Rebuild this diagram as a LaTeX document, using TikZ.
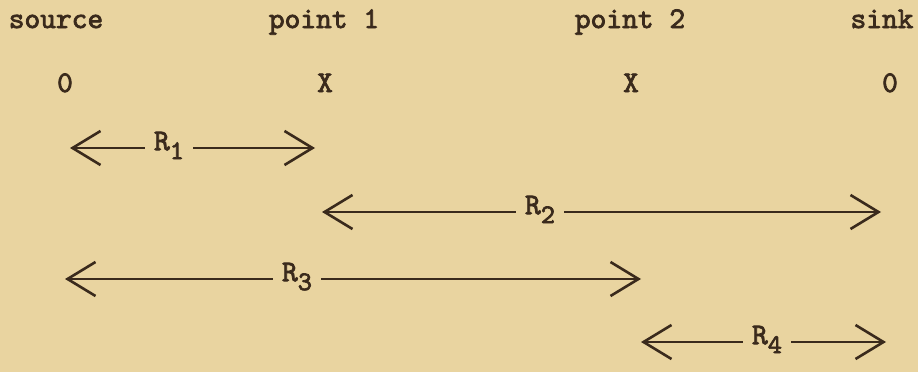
\documentclass[tikz,border=0pt]{standalone}
\usepackage{fontspec}
\newfontfamily\tw[Extension=.otf,FakeBold=2.5]{lmmono10-regular}
\usetikzlibrary{arrows.meta}
\definecolor{paper}{RGB}{233,212,160}
\definecolor{ink}{RGB}{58,42,28}
\begin{document}
\begin{tikzpicture}[x=1pt,y=-1pt,
  txt/.style={font=\tw\fontsize{30}{36}\selectfont, text=ink, inner sep=0pt, anchor=base},
  lab/.style={font=\tw\fontsize{30}{36}\selectfont, text=ink, inner sep=0pt, anchor=mid},
  rng/.style={draw=ink, line width=2.2pt, shorten <=9pt,
    -{Straight Barb[length=28pt,width=34pt,line width=2.6pt]}}]
\fill[paper] (0,0) rectangle (918,372);
\useasboundingbox (0,0) rectangle (918,372);
% headings
\node[txt] (src) at (56,28) {source};
\node[txt] (p1) at (324,28) {point 1};
\node[txt] (p2) at (630,28) {point 2};
\node[txt] (snk) at (882,28) {sink};
\node[txt] (v0) at (65,92) {0};
\node[txt] (v1) at (325,92) {X};
\node[txt] (v2) at (631,92) {X};
\node[txt] (v3) at (890,92) {0};
% ranges
\coordinate (r1l) at (70,148);  \coordinate (r1r) at (315,148);
\coordinate (r2l) at (322,212); \coordinate (r2r) at (881,212);
\coordinate (r3l) at (65,279);  \coordinate (r3r) at (641,279);
\coordinate (r4l) at (641,342); \coordinate (r4r) at (886,342);
\node[lab] (R1) at (169,148) {R\raisebox{-9pt}{\fontsize{27}{27}\selectfont 1}};
\node[lab] (R2) at (540,212) {R\raisebox{-9pt}{\fontsize{27}{27}\selectfont 2}};
\node[lab] (R3) at (297,279) {R\raisebox{-9pt}{\fontsize{27}{27}\selectfont 3}};
\node[lab] (R4) at (767,342) {R\raisebox{-9pt}{\fontsize{27}{27}\selectfont 4}};
\draw[rng] (r1l -| R1.west) -- (r1l);
\draw[rng] (r1r -| R1.east) -- (r1r);
\draw[rng] (r2l -| R2.west) -- (r2l);
\draw[rng] (r2r -| R2.east) -- (r2r);
\draw[rng] (r3l -| R3.west) -- (r3l);
\draw[rng] (r3r -| R3.east) -- (r3r);
\draw[rng] (r4l -| R4.west) -- (r4l);
\draw[rng] (r4r -| R4.east) -- (r4r);
\end{tikzpicture}
\end{document}
